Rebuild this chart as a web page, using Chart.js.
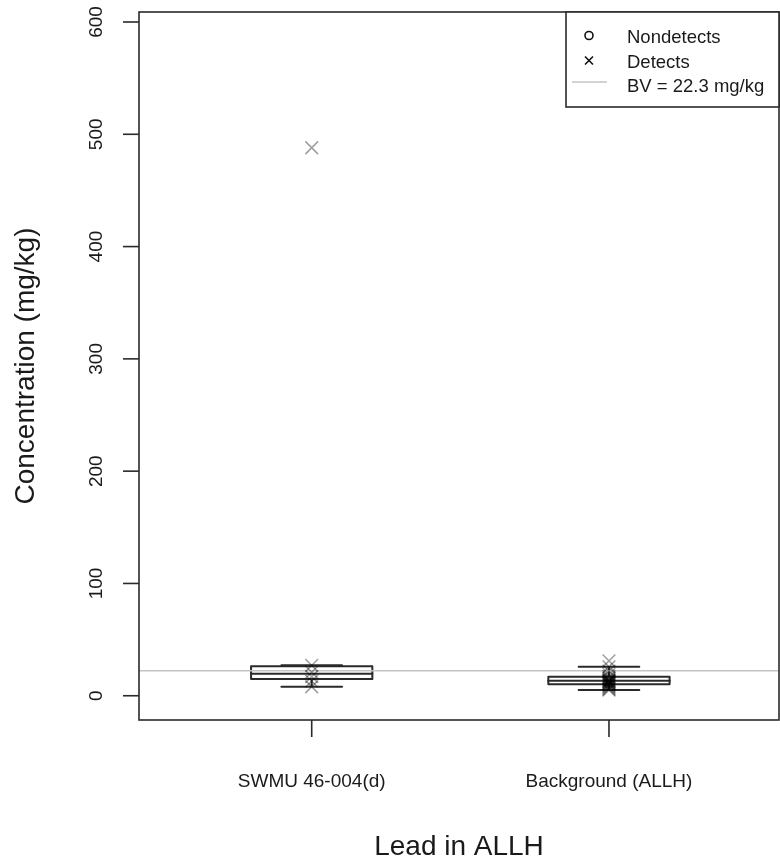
<!DOCTYPE html>
<html>
<head>
<meta charset="utf-8">
<script src="https://cdn.jsdelivr.net/npm/chart.js@4/dist/chart.umd.min.js"></script>
<style>
  html, body { margin: 0; padding: 0; background: #fff; }
  canvas { display: block; }
</style>
</head>
<body>
<canvas id="chart" width="780" height="863" style="width:780px;height:863px"></canvas>
<script>
// Groups along the x axis
const groups = ["SWMU 46-004(d)", "Background (ALLH)"];

// Box statistics per group (mg/kg)
const whiskerLow  = [8.0, 5.1];
const quartile1   = [15.0, 10.2];
const medians     = [19.6, 13.4];
const quartile3   = [26.2, 16.9];
const whiskerHigh = [27.1, 25.8];

// Individual results (mg/kg)
const detectsSite       = [488, 27.1, 21, 17, 13, 8];
const detectsBackground = [31, 25.8, 22, 19, 17, 16, 15, 14, 14, 13, 13, 13, 12, 12, 11, 11, 10, 10, 9, 8, 7, 6, 5.1];
const nondetectsSite       = [];
const nondetectsBackground = [];

// Background value screening line
const bvValue = 22.3;
const bvLabel = "BV = 22.3 mg/kg";

// Axis ticks and titles
const yTicks = [0, 100, 200, 300, 400, 500, 600];
const yTitle = "Concentration (mg/kg)";
const xTitle = "Lead in ALLH";
const legendLabels = ["Nondetects", "Detects", bvLabel];

const X_MIN = 0.419, X_MAX = 2.572;
const Y_MIN = -21.6, Y_MAX = 608.9;
const FONT = '"Liberation Sans", Arial, Helvetica, sans-serif';
const INK = '#1a1a1a';

function pointsFor(values, groupIdx) {
  return values.map(v => ({ x: groupIdx + 1, y: v }));
}

const detectPoints = pointsFor(detectsSite, 0).concat(pointsFor(detectsBackground, 1));
const nondetectPoints = pointsFor(nondetectsSite, 0).concat(pointsFor(nondetectsBackground, 1));

// Box-and-whisker bodies, drawn beneath the datasets
const boxPlugin = {
  id: 'boxes',
  beforeDatasetsDraw(chart) {
    const { ctx } = chart;
    const xs = chart.scales.x, ys = chart.scales.y;
    ctx.save();
    ctx.strokeStyle = '#2a2a2a';
    ctx.lineWidth = 2;
    ctx.lineJoin = 'round';
    ctx.lineCap = 'round';
    groups.forEach((g, i) => {
      const cx = xs.getPixelForValue(i + 1);
      const bl = xs.getPixelForValue(i + 1 - 0.204), br = xs.getPixelForValue(i + 1 + 0.204);
      const cl = xs.getPixelForValue(i + 1 - 0.102), cr = xs.getPixelForValue(i + 1 + 0.102);
      const yLo = ys.getPixelForValue(whiskerLow[i]);
      const yQ1 = ys.getPixelForValue(quartile1[i]);
      const yMd = ys.getPixelForValue(medians[i]);
      const yQ3 = ys.getPixelForValue(quartile3[i]);
      const yHi = ys.getPixelForValue(whiskerHigh[i]);
      // whiskers
      ctx.beginPath();
      ctx.moveTo(cx, yQ1); ctx.lineTo(cx, yLo);
      ctx.moveTo(cx, yQ3); ctx.lineTo(cx, yHi);
      ctx.moveTo(cl, yLo); ctx.lineTo(cr, yLo);
      ctx.moveTo(cl, yHi); ctx.lineTo(cr, yHi);
      ctx.stroke();
      // box
      ctx.fillStyle = '#fff';
      ctx.fillRect(bl, yQ3, br - bl, yQ1 - yQ3);
      ctx.strokeRect(bl, yQ3, br - bl, yQ1 - yQ3);
      // median
      ctx.beginPath();
      ctx.moveTo(bl, yMd); ctx.lineTo(br, yMd);
      ctx.stroke();
    });
    ctx.restore();
  }
};

// Frame, ticks, labels, titles and legend
const axesPlugin = {
  id: 'frameAxes',
  afterDraw(chart) {
    const { ctx, chartArea: a } = chart;
    const xs = chart.scales.x, ys = chart.scales.y;
    ctx.save();
    ctx.strokeStyle = '#2a2a2a';
    ctx.lineWidth = 1.6;
    ctx.strokeRect(a.left, a.top, a.right - a.left, a.bottom - a.top);

    ctx.fillStyle = INK;
    // y ticks
    ctx.font = '19px ' + FONT;
    ctx.textAlign = 'center';
    ctx.textBaseline = 'alphabetic';
    yTicks.forEach(v => {
      const y = ys.getPixelForValue(v);
      ctx.beginPath();
      ctx.moveTo(a.left - 16, y); ctx.lineTo(a.left, y);
      ctx.stroke();
      ctx.save();
      ctx.translate(101.5, y);
      ctx.rotate(-Math.PI / 2);
      ctx.fillText(String(v), 0, 0);
      ctx.restore();
    });
    // x ticks
    groups.forEach((g, i) => {
      const x = xs.getPixelForValue(i + 1);
      ctx.beginPath();
      ctx.moveTo(x, a.bottom); ctx.lineTo(x, a.bottom + 17);
      ctx.stroke();
      ctx.fillText(g, x, 787);
    });
    // titles
    ctx.font = '28px ' + FONT;
    ctx.fillText(xTitle, (a.left + a.right) / 2, 855);
    ctx.save();
    ctx.translate(33.5, (a.top + a.bottom) / 2);
    ctx.rotate(-Math.PI / 2);
    ctx.fillText(yTitle, 0, 0);
    ctx.restore();

    // legend
    const lx = 566, ly = a.top, lw = a.right - lx, lh = 95;
    ctx.fillStyle = '#fff';
    ctx.fillRect(lx, ly, lw, lh);
    ctx.strokeRect(lx, ly, lw, lh);
    ctx.strokeStyle = '#111';
    ctx.lineWidth = 1.6;
    ctx.beginPath();
    ctx.arc(589, 35.5, 4, 0, Math.PI * 2);
    ctx.stroke();
    ctx.beginPath();
    ctx.moveTo(585, 56.5); ctx.lineTo(593, 64.5);
    ctx.moveTo(593, 56.5); ctx.lineTo(585, 64.5);
    ctx.stroke();
    ctx.strokeStyle = '#c4c4c4';
    ctx.lineWidth = 1.5;
    ctx.beginPath();
    ctx.moveTo(572, 82); ctx.lineTo(607, 82);
    ctx.stroke();
    ctx.fillStyle = INK;
    ctx.font = '18.5px ' + FONT;
    ctx.textAlign = 'left';
    ctx.fillText(legendLabels[0], 627, 43);
    ctx.fillText(legendLabels[1], 627, 68);
    ctx.fillText(legendLabels[2], 627, 92);
    ctx.restore();
  }
};

new Chart(document.getElementById('chart'), {
  type: 'scatter',
  data: {
    datasets: [
      {
        label: 'Detects',
        data: detectPoints,
        pointStyle: 'crossRot',
        radius: 9,
        borderColor: 'rgba(0,0,0,0.38)',
        backgroundColor: 'rgba(0,0,0,0.38)',
        borderWidth: 1.5,
        order: 1
      },
      {
        label: 'Nondetects',
        data: nondetectPoints,
        pointStyle: 'circle',
        radius: 4,
        borderColor: '#111',
        backgroundColor: 'rgba(0,0,0,0)',
        borderWidth: 1.5,
        order: 2
      },
      {
        type: 'line',
        label: bvLabel,
        data: [{ x: X_MIN, y: bvValue }, { x: X_MAX, y: bvValue }],
        borderColor: '#c4c4c4',
        borderWidth: 1.5,
        pointRadius: 0,
        fill: false,
        order: 3
      }
    ]
  },
  options: {
    responsive: false,
    animation: false,
    events: [],
    layout: { autoPadding: false, padding: { left: 139, top: 12, right: 1, bottom: 143 } },
    plugins: { legend: { display: false }, tooltip: { enabled: false } },
    scales: {
      x: { type: 'linear', min: X_MIN, max: X_MAX, display: false },
      y: { type: 'linear', min: Y_MIN, max: Y_MAX, display: false }
    }
  },
  plugins: [boxPlugin, axesPlugin]
});
</script>
</body>
</html>
